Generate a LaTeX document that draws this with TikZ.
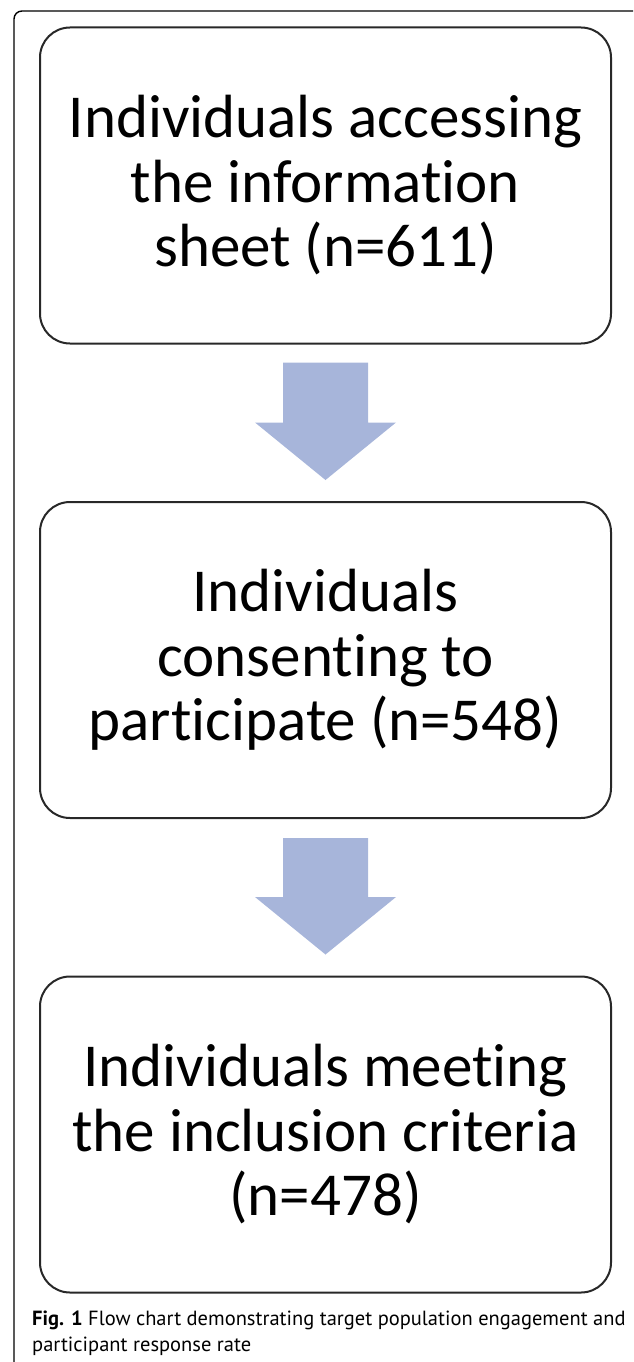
\documentclass[tikz,border=0pt]{standalone}
\usepackage{fontspec}
\usepackage{tikz}
\usetikzlibrary{calc}
\newfontfamily\boxfont[Ligatures=NoCommon]{Carlito}
\newfontfamily\capfont{PT Sans}
\definecolor{arrowblue}{RGB}{167,181,218}
\definecolor{boxline}{RGB}{40,40,40}
\newcommand\tbreak{t\kern0pt}

\begin{document}
\begin{tikzpicture}[x=1pt,y=-1pt,
  stagebox/.style={draw=boxline, line width=2pt, rounded corners=30pt,
    minimum width=571pt, minimum height=316pt, inner sep=0pt, align=center,
    font={\boxfont\fontsize{61}{64.5}\selectfont}},
  flowarrow/.style={fill=arrowblue},
  captiontext/.style={anchor=base west, inner sep=0pt,
    font={\capfont\fontsize{20.5}{26}\selectfont}}]
\useasboundingbox (0,0) rectangle (633,1362);
% outer frame
\draw [line width=1.4pt, rounded corners=8pt] (14,1362) -- (14,11) -- (633,11);

\node[stagebox] (access) at (325.5,185.5) {Individuals accessing\\the informa\tbreak ion\\sheet (n=611)};
\node[stagebox] (consent) at (325.5,660) {Individuals\\consen\tbreak ing to\\participate (n=548)};
\node[stagebox] (include) at (325.5,1134.5) {Individuals mee\tbreak ing\\the inclusion criteria\\(n=478)};

% block arrows
\fill[flowarrow] ($(access.south)+(-42.5,18)$) -- ++(85,0) -- ++(0,60) -- ++(28,0)
  -- ($(consent.north)+(0,-21)$) -- ($(access.south)+(-70.5,78)$) -- ++(28,0) -- cycle;
\fill[flowarrow] ($(consent.south)+(-42.5,19)$) -- ++(85,0) -- ++(0,59) -- ++(28,0)
  -- ($(include.north)+(0,-21)$) -- ($(consent.south)+(-70.5,78)$) -- ++(28,0) -- cycle;

\node[captiontext] (capone) at (32,1325) {\textbf{Fig. 1} Flow chart demonstrating target population engagement and};
\node[captiontext] (captwo) at (32,1351) {participant response rate};
\end{tikzpicture}
\end{document}
